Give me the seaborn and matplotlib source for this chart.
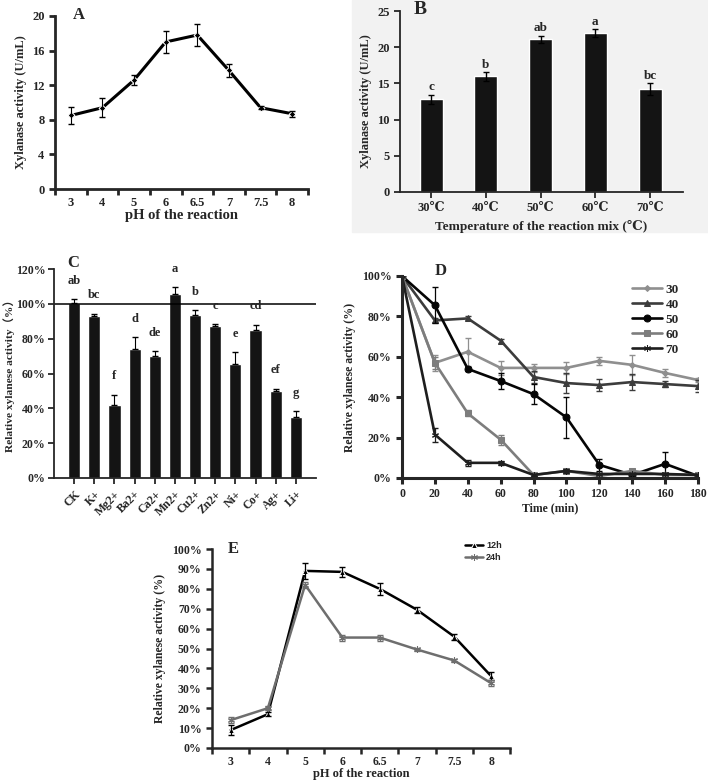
import numpy as np
import pandas as pd
import matplotlib
matplotlib.use("Agg")
import matplotlib.pyplot as plt
from matplotlib.patches import Rectangle
from matplotlib.ticker import FuncFormatter, FixedLocator
import seaborn as sns

# ---------------------------------------------------------------------------
# Data
# ---------------------------------------------------------------------------

# A: pH of the reaction vs xylanase activity
PH_LABELS = ["3", "4", "5", "6", "6.5", "7", "7.5", "8"]
PH_ACT = [8.5, 9.4, 12.6, 17.0, 17.8, 13.7, 9.4, 8.7]
PH_ERR = [0.95, 1.1, 0.6, 1.25, 1.25, 0.7, 0.15, 0.35]

# B: temperature of the reaction mix
TEMP_LABELS = ["30℃", "40℃", "50℃", "60℃", "70℃"]
TEMP_ACT = [12.8, 16.0, 21.1, 21.9, 14.2]
TEMP_ERR = [0.65, 0.6, 0.5, 0.55, 0.8]
TEMP_LETTERS = ["c", "b", "ab", "a", "bc"]

# C: metal ions
IONS = ["CK", "K+", "Mg2+", "Ba2+", "Ca2+", "Mn2+", "Cu2+", "Zn2+",
        "Ni+", "Co+", "Ag+", "Li+"]
ION_ACT = [100.5, 92.8, 41.8, 74.0, 70.0, 105.8, 93.8, 87.0, 65.2, 85.0, 49.8, 35.0]
ION_ERR = [2.2, 1.5, 6.0, 6.8, 2.8, 3.6, 2.5, 1.3, 7.0, 3.0, 1.5, 3.3]
ION_LETTERS = ["ab", "bc", "f", "d", "de", "a", "b", "c", "e", "cd", "ef", "g"]

# D: thermal stability over time
TIME = [0, 20, 40, 60, 80, 100, 120, 140, 160, 180]
D30 = [100, 57, 62.5, 54.5, 54.5, 54.5, 58, 56, 52, 48.5]
D30_ERR = [0, 4, 7, 3.5, 2, 3, 2, 5, 2, 1]
D40 = [100, 78, 79, 68, 50, 47, 46, 47.5, 46.5, 45.5]
D40_ERR = [0, 1, 1, 1, 3, 5, 3, 4, 1.5, 3]
D50 = [100, 85.5, 54, 48, 41.5, 30, 6.5, 1.5, 7, 1]
D50_ERR = [0, 9, 1, 4, 5, 10, 3, 1, 6, 1]
D60 = [100, 57, 32, 19, 1.5, 3.5, 1, 3.5, 1.5, 1.5]
D60_ERR = [0, 3, 1.5, 2.5, 0.5, 1, 0.5, 1, 1, 0.5]
D70 = [100, 21.5, 7.5, 7.5, 1.5, 3.5, 2, 2, 2, 1.5]
D70_ERR = [0, 3.5, 1.5, 1, 0.5, 1, 0.5, 0.5, 0.5, 0.5]
D_TEMPS = ["30", "40", "50", "60", "70"]

# E: pH stability
E12 = [9, 17, 89, 88.5, 80, 69.5, 56, 36]
E12_ERR = [2.5, 1, 4, 2.5, 3, 1.5, 1.5, 2]
E24 = [14, 20, 82, 55.5, 55.5, 49.5, 44, 32.5]
E24_ERR = [1.5, 1, 1.5, 1.5, 1.5, 1, 0.8, 1.5]

# ---------------------------------------------------------------------------
# Style
# ---------------------------------------------------------------------------
sns.set_style("ticks")
plt.rcParams["font.family"] = ["Liberation Serif", "DejaVu Serif", "Noto Sans CJK SC"]
plt.rcParams["font.weight"] = "bold"
plt.rcParams["axes.labelweight"] = "bold"
plt.rcParams["xtick.direction"] = "out"
plt.rcParams["ytick.direction"] = "out"

W, H = 708, 781
fig = plt.figure(figsize=(W / 100, H / 100), dpi=100)
fig.patch.set_facecolor("white")


def px_axes(left, top, right, bottom):
    return fig.add_axes([left / W, 1 - bottom / H, (right - left) / W, (bottom - top) / H])


def style_axes(ax, lw=1.5, tl=4, fs=8):
    sns.despine(ax=ax)
    for s in ("left", "bottom"):
        ax.spines[s].set_linewidth(lw)
    ax.tick_params(which="both", width=lw, length=tl, labelsize=fs)


pct = FuncFormatter(lambda v, _: f"{v:.0f}%")

# gray backdrop of panel B
fig.patches.append(Rectangle((352 / W, 1 - 232 / H), 1 - 352 / W, 232 / H,
                             transform=fig.transFigure, color="#f2f2f2", zorder=-10))

# ---------------------------------------------------------------------------
# A
# ---------------------------------------------------------------------------
axA = px_axes(55, 16, 308, 189)
xa = np.arange(len(PH_LABELS))
sns.lineplot(x=xa, y=PH_ACT, ax=axA, color="black", linewidth=2.2,
             marker="D", markersize=3.5)
axA.errorbar(xa, PH_ACT, yerr=PH_ERR, fmt="none", ecolor="black",
             elinewidth=0.8, capsize=2)
axA.set_xlim(-0.5, 7.5)
axA.set_ylim(0, 20)
axA.set_yticks(range(0, 21, 4))
axA.set_xticks(xa, PH_LABELS)
axA.xaxis.set_minor_locator(FixedLocator(np.arange(-0.5, 8, 1)))
style_axes(axA, lw=2, fs=9)
axA.tick_params(axis="x", which="major", length=0, pad=6)
axA.set_xlabel("pH of the reaction", fontsize=10.5, labelpad=0)
axA.set_ylabel("Xylanase activity (U/mL)", fontsize=9)
fig.text(79 / W, 1 - 15 / H, "A", fontsize=12, fontweight="bold", ha="center", va="center")

# ---------------------------------------------------------------------------
# B
# ---------------------------------------------------------------------------
axB = px_axes(400, 11, 683, 192)
axB.set_facecolor("#f2f2f2")
dfB = pd.DataFrame({"temp": TEMP_LABELS, "act": TEMP_ACT})
sns.barplot(data=dfB, x="temp", y="act", ax=axB, color="#141414",
            saturation=1, width=0.42)
xb = np.arange(len(TEMP_LABELS))
axB.errorbar(xb, TEMP_ACT, yerr=TEMP_ERR, fmt="none", ecolor="black",
             elinewidth=1, capsize=2.5)
for x, v, e, lab in zip(xb, TEMP_ACT, TEMP_ERR, TEMP_LETTERS):
    axB.text(x, v + e + 1.0, lab, ha="center", va="center", fontsize=9.5, fontweight="bold")
axB.set_xlim(-0.57, 4.6)
axB.set_ylim(0, 25)
axB.set_yticks(range(0, 26, 5))
style_axes(axB, lw=1.3, fs=9)
axB.set_xlabel("Temperature of the reaction mix (℃)", fontsize=9.5)
axB.set_ylabel("Xylanase activity (U/mL)", fontsize=9)
fig.text(420 / W, 1 - 10 / H, "B", fontsize=14, fontweight="bold", ha="center", va="center")

# ---------------------------------------------------------------------------
# C
# ---------------------------------------------------------------------------
axC = px_axes(54, 269, 316, 478)
dfC = pd.DataFrame({"ion": IONS, "act": ION_ACT})
sns.barplot(data=dfC, x="ion", y="act", ax=axC, color="#141414",
            saturation=1, width=0.6)
xc = np.arange(len(IONS))
axC.errorbar(xc, ION_ACT, yerr=[np.zeros(len(IONS)), ION_ERR], fmt="none",
             ecolor="black", elinewidth=0.8, capsize=2)
for x, v, e, lab in zip(xc, ION_ACT, ION_ERR, ION_LETTERS):
    axC.text(x, v + e + 10.5, lab, ha="center", va="center", fontsize=9, fontweight="bold")
axC.axhline(100, color="black", linewidth=1.1)
axC.set_xlim(-1.0, 12.0)
axC.set_ylim(0, 120)
axC.set_yticks(range(0, 121, 20))
axC.yaxis.set_major_formatter(pct)
style_axes(axC, lw=1.3, fs=8.5)
axC.tick_params(axis="y", pad=2)
axC.set_xticks(xc, IONS, rotation=45, ha="right", rotation_mode="anchor")
axC.set_xlabel("")
axC.set_ylabel("Relative xylanese activity（%）", fontsize=8.2, labelpad=1)
fig.text(73 / W, 1 - 263 / H, "C", fontsize=12, fontweight="bold", ha="center", va="center")

# ---------------------------------------------------------------------------
# D
# ---------------------------------------------------------------------------
axD = px_axes(402, 276, 698, 478)
d_series = [D30, D40, D50, D60, D70]
d_errs = [D30_ERR, D40_ERR, D50_ERR, D60_ERR, D70_ERR]
d_colors = ["#8f8f8f", "#3c3c3c", "#050505", "#7d7d7d", "#1e1e1e"]
d_markers = ["D", "^", "o", "s", (6, 2, 0)]
d_msize = [3, 4, 5, 4, 5]
for vals, errs, col, mk, ms, lab in zip(d_series, d_errs, d_colors, d_markers, d_msize, D_TEMPS):
    sns.lineplot(x=TIME, y=vals, ax=axD, color=col, linewidth=1.9, marker=mk,
                 markersize=ms, markeredgecolor=col, label=lab)
    axD.errorbar(TIME, vals, yerr=errs, fmt="none", ecolor=col, elinewidth=0.9, capsize=2)
axD.set_xlim(0, 180)
axD.set_ylim(0, 100)
axD.set_xticks(TIME)
axD.set_yticks(range(0, 101, 20))
axD.yaxis.set_major_formatter(pct)
style_axes(axD, lw=2.2, fs=8.5)
axD.set_xlabel("Time (min)", fontsize=8.5, labelpad=1)
axD.set_ylabel("Relative xylanese activity (%)", fontsize=8.5)
axD.legend(loc="upper right", bbox_to_anchor=(0.975, 1.02), frameon=False,
           handlelength=2.2, labelspacing=0.2, handletextpad=0.3,
           prop={"weight": "bold", "size": 9.5})
fig.text(441 / W, 1 - 271 / H, "D", fontsize=12, fontweight="bold", ha="center", va="center")

# ---------------------------------------------------------------------------
# E
# ---------------------------------------------------------------------------
axE = px_axes(212, 549, 510, 748)
xe = np.arange(len(PH_LABELS))
sns.lineplot(x=xe, y=E12, ax=axE, color="black", linewidth=1.8, marker="^",
             markersize=4.5, label="12h")
axE.errorbar(xe, E12, yerr=E12_ERR, fmt="none", ecolor="black", elinewidth=0.9, capsize=2)
sns.lineplot(x=xe, y=E24, ax=axE, color="#6e6e6e", linewidth=1.8, marker=(6, 2, 0),
             markersize=5, markeredgecolor="#6e6e6e", label="24h")
axE.errorbar(xe, E24, yerr=E24_ERR, fmt="none", ecolor="#6e6e6e", elinewidth=0.9, capsize=2)
axE.set_xlim(-0.5, 7.5)
axE.set_ylim(0, 100)
axE.set_yticks(range(0, 101, 10))
axE.yaxis.set_major_formatter(pct)
axE.set_xticks(xe, PH_LABELS)
axE.xaxis.set_minor_locator(FixedLocator(np.arange(-0.5, 8, 1)))
style_axes(axE, lw=1.8, fs=8.5)
axE.tick_params(axis="x", which="major", length=0, pad=6)
axE.set_xlabel("pH of the reaction", fontsize=9, labelpad=0)
axE.set_ylabel("Relative xylanese activity (%)", fontsize=8.5)
axE.legend(loc="upper right", bbox_to_anchor=(1.0, 1.08), frameon=False,
           handlelength=2.0, labelspacing=0.3, handletextpad=0.3,
           prop={"family": "Liberation Sans", "size": 6.5})
fig.text(233 / W, 1 - 549 / H, "E", fontsize=12, fontweight="bold", ha="center", va="center")

fig.savefig("out.png", dpi=100, facecolor="white")
